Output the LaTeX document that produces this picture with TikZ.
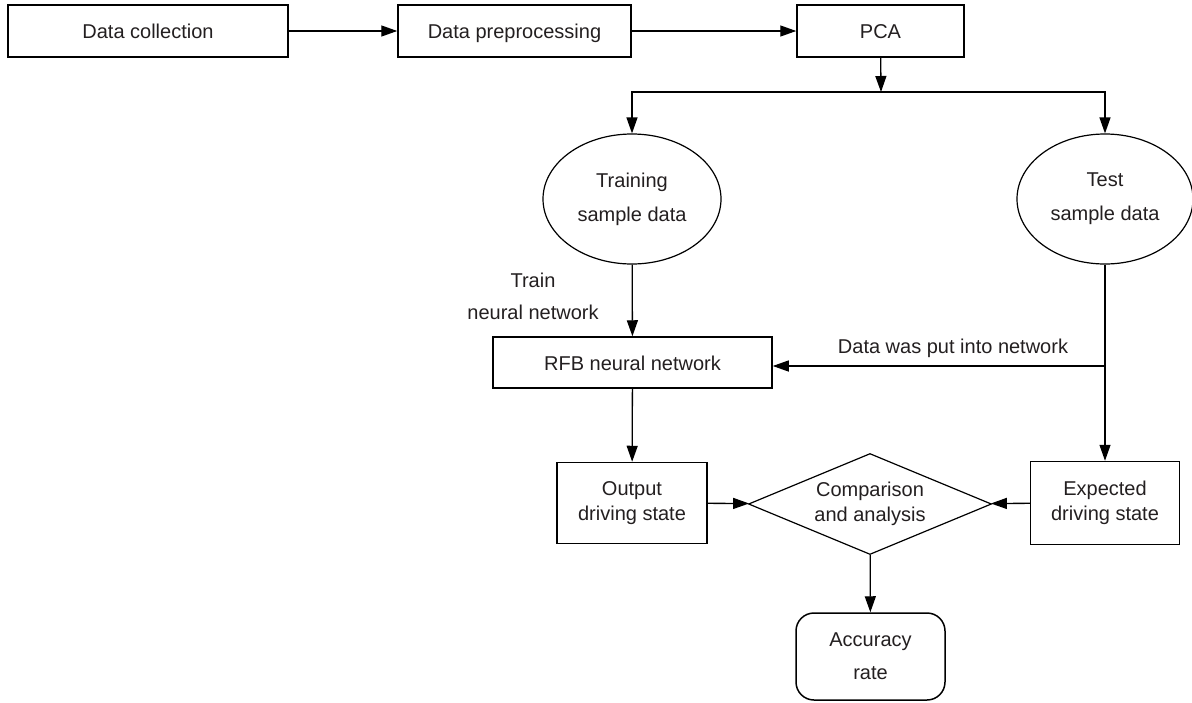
\documentclass[tikz,border=0pt]{standalone}
\usepackage{fontspec}
\setmainfont{Liberation Sans}
\usetikzlibrary{arrows.meta,shapes.geometric}
\definecolor{txt}{HTML}{231F20}

\begin{document}
\begin{tikzpicture}[x=1pt, y=-1pt, line width=1.3pt, text=txt,
  font=\fontsize{20}{25}\selectfont,
  box/.style={draw, line width=1.5pt, inner sep=0pt, align=center},
  oneline/.style={text height=19pt, text depth=4pt},
  blob/.style={draw, ellipse, line width=1.2pt, inner sep=0pt, align=center,
    minimum width=178pt, minimum height=130pt, font=\fontsize{20}{34}\selectfont},
  >={Triangle[length=16pt,width=11pt]}]
  \useasboundingbox (0,0) rectangle (1192,702);
  \node[box, oneline, minimum width=280pt, minimum height=52pt] (coll) at (148,31) {Data collection};
  \node[box, oneline, minimum width=233pt, minimum height=52pt] (prep) at (514.5,31) {Data preprocessing};
  \node[box, oneline, minimum width=167pt, minimum height=52pt] (pca) at (880.5,31) {PCA};
  \node[blob] (train) at (632,199) {Training\\sample data};
  \node[blob, minimum width=176pt] (test) at (1105,199) {Test\\sample data};
  \node[box, oneline, minimum width=279pt, minimum height=51pt] (rfb) at (632.5,362.5) {RFB neural network};
  \node[box, minimum width=150pt, minimum height=81pt] (out) at (632,503) {Output\\driving state};
  \node[diamond, draw, line width=1.2pt, inner sep=0pt, minimum width=243pt, minimum height=101pt,
    label={[align=center]center:{Comparison\\and analysis}}] (cmp) at (870,504) {};
  \node[box, minimum width=149pt, minimum height=83pt] (exp) at (1105,503) {Expected\\driving state};
  \node[box, rounded corners=18pt, minimum width=149pt, minimum height=87pt,
    font=\fontsize{20}{33}\selectfont] (acc) at (870.5,656.5) {Accuracy\\rate};
  \node[align=center, font=\fontsize{20}{32}\selectfont] (trainlbl) at (533,296) {Train\\neural network};
  \node[oneline] (putlbl) at (953,346) {Data was put into network};
  \coordinate (bus) at (881,92);
  \coordinate (tap) at (1105,366);

  \path[->]
  (coll) edge (prep)
  (prep) edge (pca)
  (pca) edge (bus)
  (train) edge (rfb)
  (rfb) edge (out)
  (test) edge (exp)
  (tap) edge (rfb.east |- tap)
  (out) edge (cmp)
  (exp) edge (cmp)
  (cmp) edge (acc);
  \draw[->] (bus) -| (train);
  \draw[->] (bus) -| (test);
\end{tikzpicture}
\end{document}
